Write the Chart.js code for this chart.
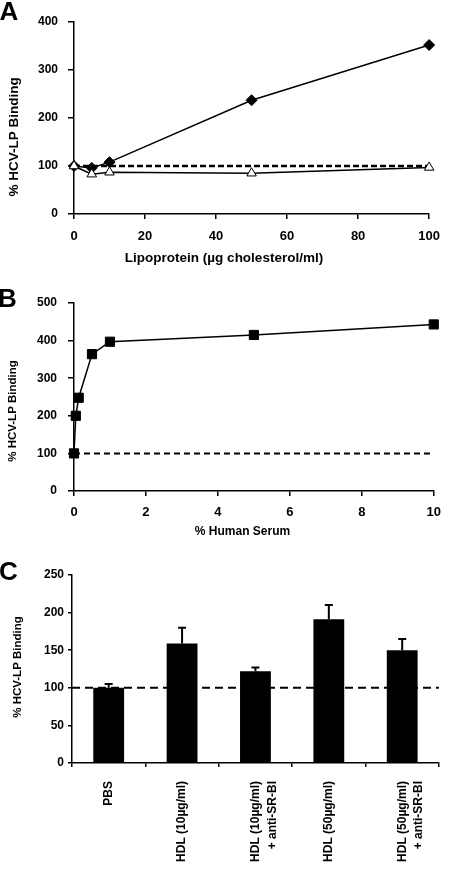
<!DOCTYPE html>
<html>
<head>
<meta charset="utf-8">
<script src="https://cdn.jsdelivr.net/npm/chart.js@4.4.1/dist/chart.umd.min.js"></script>
<style>
  html, body { margin: 0; padding: 0; background: #fff; }
  #wrap { position: relative; width: 450px; height: 870px; }
  canvas { position: absolute; left: 0; }
</style>
</head>
<body>
<div id="wrap">
  <canvas id="chartA" width="450" height="270" style="top:0px"></canvas>
  <canvas id="chartB" width="450" height="275" style="top:270px"></canvas>
  <canvas id="chartC" width="450" height="325" style="top:545px"></canvas>
</div>
<script>
"use strict";

// panel A - lipoprotein dose
const lipoDose = [0, 5, 10, 50, 100];
const lipoDiamond = [100, 96, 108, 237, 352];
const lipoTriangle = [100, 83, 87, 85, 97];

// panel B - human serum
const serumPct = [0, 0.05, 0.13, 0.5, 1, 5, 10];
const serumBinding = [100, 200, 248, 364, 397, 415, 443];

// panel C - HDL / anti-SR-BI
const hdlLabels = [["PBS"], ["HDL (10µg/ml)"], ["HDL (10µg/ml)", "+ anti-SR-BI"], ["HDL (50µg/ml)"], ["HDL (50µg/ml)", "+ anti-SR-BI"]];
const hdlBinding = [100, 159, 122, 191, 150];
const hdlError = [5, 21, 5, 19, 15];

const baseline = 100;
const yTitle = "% HCV-LP Binding";

const FONT = "'Liberation Sans', Arial, Helvetica, sans-serif";
Chart.defaults.font.family = FONT;
Chart.defaults.font.weight = "bold";
Chart.defaults.color = "#000";
Chart.defaults.animation = false;
Chart.defaults.plugins.legend.display = false;
Chart.defaults.plugins.tooltip.enabled = false;

function toPoints(xs, ys) {
    return xs.map(function (x, i) { return { x: x, y: ys[i] }; });
}

// free text: panel letters and axis titles
const panelText = {
    id: "panelText",
    afterDraw(chart, args, opts) {
        const ctx = chart.ctx;
        opts.items.forEach(function (t) {
            ctx.save();
            ctx.translate(t.x, t.y);
            ctx.rotate(t.rot || 0);
            ctx.font = "bold " + t.size + "px " + FONT;
            ctx.fillStyle = "#000";
            ctx.textAlign = t.align || "center";
            ctx.textBaseline = t.baseline || "middle";
            ctx.fillText(t.text, 0, 0);
            ctx.restore();
        });
    }
};

// upper error bars for panel C
const errorBars = {
    id: "errorBars",
    afterDatasetsDraw(chart) {
        const meta = chart.getDatasetMeta(1);
        const yScale = chart.scales.y;
        const ctx = chart.ctx;
        ctx.save();
        ctx.strokeStyle = "#000";
        ctx.lineWidth = 2;
        meta.data.forEach(function (bar, i) {
            const top = yScale.getPixelForValue(hdlBinding[i] + hdlError[i]);
            ctx.beginPath();
            ctx.moveTo(bar.x, bar.y);
            ctx.lineTo(bar.x, top);
            ctx.moveTo(bar.x - 4, top);
            ctx.lineTo(bar.x + 4, top);
            ctx.stroke();
        });
        ctx.restore();
    }
};

function axisLook(tickLen) {
    return {
        grid: { drawOnChartArea: false, drawTicks: true, tickLength: tickLen, color: "#000", lineWidth: 1.5 },
        border: { color: "#000", width: 1.5 }
    };
}

// ---- A ----
new Chart(document.getElementById("chartA"), {
    type: "line",
    data: {
        datasets: [{
            data: toPoints(lipoDose, lipoTriangle),
            borderColor: "#000", borderWidth: 1.5, clip: false,
            pointStyle: "triangle", pointRadius: 5.5,
            pointBackgroundColor: "#fff", pointBorderColor: "#000", pointBorderWidth: 1
        }, {
            data: toPoints(lipoDose, lipoDiamond),
            borderColor: "#000", borderWidth: 1.5, clip: false,
            pointStyle: "rectRot", pointRadius: 5.5,
            pointBackgroundColor: "#000", pointBorderColor: "#000", pointBorderWidth: 1
        }, {
            data: toPoints([0, 100], [baseline, baseline]),
            borderColor: "#000", borderWidth: 2.5, borderDash: [6, 3],
            pointRadius: 0
        }]
    },
    options: {
        responsive: false,
        layout: { padding: { top: 22, right: 12, left: 0, bottom: 0 } },
        scales: {
            x: Object.assign({
                type: "linear", min: 0, max: 100,
                ticks: { stepSize: 20, padding: 10, font: { size: 13 } },
                afterFit: function (s) { s.height = 56; }
            }, axisLook(5)),
            y: Object.assign({
                min: 0, max: 400,
                ticks: { stepSize: 100, padding: 10, font: { size: 12 } },
                afterFit: function (s) { s.width = 74; }
            }, axisLook(6))
        },
        plugins: {
            panelText: { items: [
                { text: "A", x: -0.5, y: 20, size: 26, align: "left", baseline: "alphabetic" },
                { text: yTitle, x: 14.5, y: 137, size: 13.5, rot: -Math.PI / 2 },
                { text: "Lipoprotein (µg cholesterol/ml)", x: 224, y: 258, size: 13.5 }
            ] }
        }
    },
    plugins: [panelText]
});

// ---- B ----
new Chart(document.getElementById("chartB"), {
    type: "line",
    data: {
        datasets: [{
            data: toPoints(serumPct, serumBinding),
            borderColor: "#000", borderWidth: 1.5, clip: false,
            pointStyle: "rect", pointRadius: 6.5,
            pointBackgroundColor: "#000", pointBorderColor: "#000", pointBorderWidth: 1
        }, {
            data: toPoints([0, 10], [baseline, baseline]),
            borderColor: "#000", borderWidth: 2, borderDash: [6, 4],
            pointRadius: 0
        }]
    },
    options: {
        responsive: false,
        layout: { padding: { top: 33, right: 14, left: 0, bottom: 0 } },
        scales: {
            x: Object.assign({
                type: "linear", min: 0, max: 10,
                ticks: { stepSize: 2, padding: 9, font: { size: 13 } },
                afterFit: function (s) { s.height = 54; }
            }, axisLook(5)),
            y: Object.assign({
                min: 0, max: 500,
                ticks: { stepSize: 100, padding: 11, font: { size: 12 } },
                afterFit: function (s) { s.width = 74; }
            }, axisLook(6))
        },
        plugins: {
            panelText: { items: [
                { text: "B", x: -2, y: 37, size: 26, align: "left", baseline: "alphabetic" },
                { text: yTitle, x: 13, y: 141, size: 11.5, rot: -Math.PI / 2 },
                { text: "% Human Serum", x: 242.5, y: 262, size: 12 }
            ] }
        }
    },
    plugins: [panelText]
});

// ---- C ----
new Chart(document.getElementById("chartC"), {
    type: "bar",
    data: {
        labels: hdlLabels,
        datasets: [{
            type: "line",
            xAxisID: "xl",
            data: toPoints([0, 1], [baseline, baseline]),
            borderColor: "#000", borderWidth: 2, borderDash: [8, 5],
            pointRadius: 0
        }, {
            xAxisID: "x",
            data: hdlBinding,
            backgroundColor: "#000",
            grouped: false,
            barPercentage: 0.42,
            categoryPercentage: 1
        }]
    },
    options: {
        responsive: false,
        layout: { padding: { top: 30, right: 2, left: 0, bottom: 0 } },
        scales: {
            x: Object.assign({
                ticks: { minRotation: 90, maxRotation: 90, autoSkip: false, padding: 14,
                         font: { size: 12, lineHeight: 1.4 } },
                afterFit: function (s) { s.height = 107; }
            }, axisLook(4)),
            xl: { type: "linear", min: 0, max: 1, offset: false, display: false },
            y: Object.assign({
                min: 0, max: 250,
                ticks: { stepSize: 50, padding: 4, font: { size: 12 } },
                afterFit: function (s) { s.width = 72; }
            }, axisLook(4))
        },
        plugins: {
            panelText: { items: [
                { text: "C", x: -1, y: 35, size: 26, align: "left", baseline: "alphabetic" },
                { text: yTitle, x: 18, y: 122, size: 11.5, rot: -Math.PI / 2 }
            ] }
        }
    },
    plugins: [panelText, errorBars]
});
</script>
</body>
</html>
